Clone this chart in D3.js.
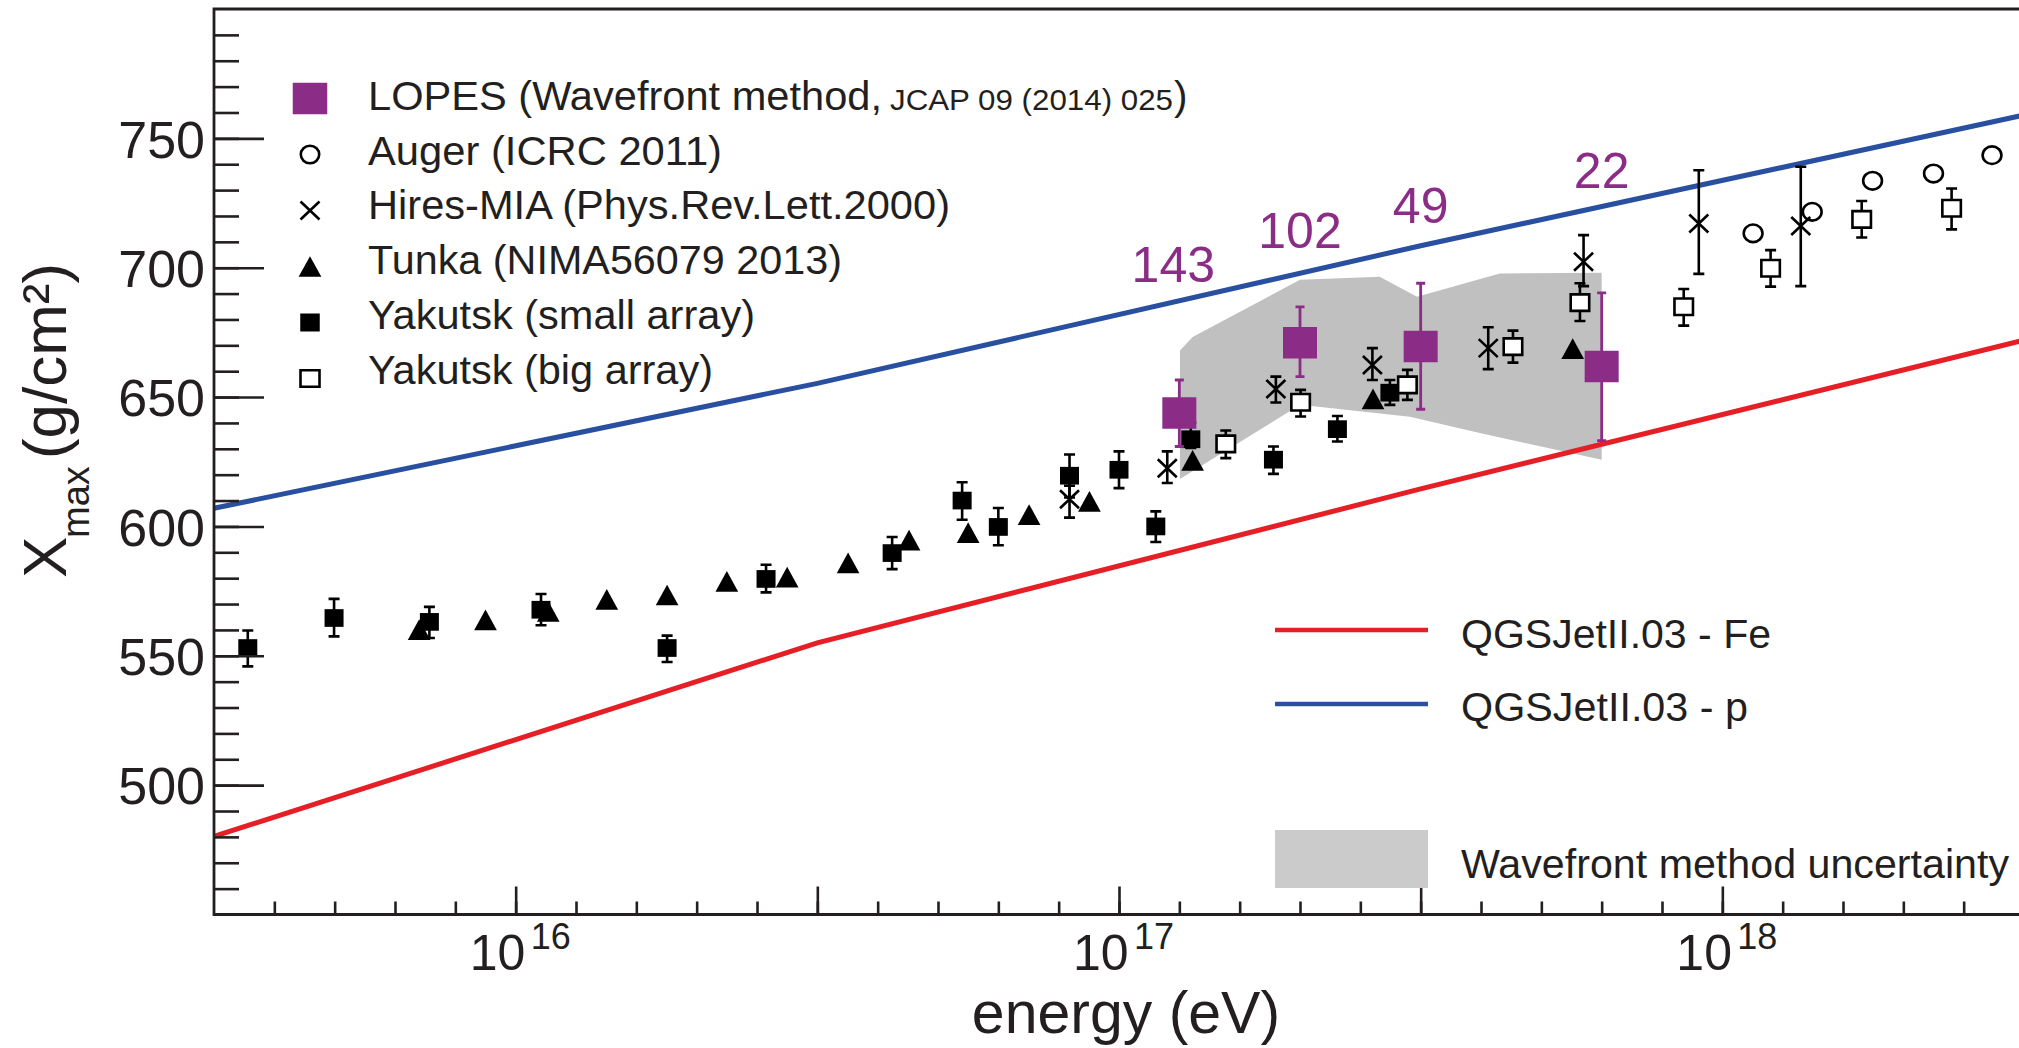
<!DOCTYPE html>
<html>
<head>
<meta charset="utf-8">
<script src="https://cdn.jsdelivr.net/npm/d3@7"></script>
<style>
  html, body { margin: 0; padding: 0; background: #ffffff; }
  svg { display: block; }
  text { font-family: "Liberation Sans", Arial, Helvetica, sans-serif; fill: #231f20; }
</style>
</head>
<body>
<svg id="chart" width="2019" height="1048"></svg>
<script>
// Energies are log10(E / eV); depths are Xmax in g/cm².

// LOPES, wavefront method (with event counts per bin)
const lopesLgE   = [17.10, 17.30, 17.50, 17.80];
const lopesXmax  = [643.8, 671.0, 669.5, 661.8];
const lopesHi    = [656.6, 684.9, 694.0, 690.3];
const lopesLo    = [630.9, 657.9, 645.3, 633.2];
const lopesEvents = ["143", "102", "49", "22"];
const lopesLabelXmax = [694.6, 707.5, 717.1, 730.7];

// Auger (ICRC 2011)
const augerLgE  = [18.051, 18.149, 18.249, 18.350, 18.447];
const augerXmax = [713.3, 721.6, 733.6, 736.4, 743.5];

// HiRes-MIA (PRL 2000)
const hiresLgE  = [16.918, 17.080, 17.260, 17.420, 17.612, 17.770, 17.961, 18.130];
const hiresXmax = [610.5, 622.5, 653.1, 662.4, 668.9, 702.3, 717.1, 716.1];
const hiresHi   = [615.7, 629.0, 657.9, 668.9, 677.0, 712.6, 737.7, 739.0];
const hiresLo   = [603.4, 616.8, 647.9, 656.6, 660.8, 692.9, 697.6, 692.9];

// Tunka (NIMA 2013)
const tunkaLgE  = [15.840, 15.950, 16.054, 16.151, 16.251, 16.350, 16.450, 16.551,
                   16.652, 16.750, 16.851, 16.951, 17.122, 17.421, 17.752];
const tunkaXmax = [560.1, 563.9, 567.2, 571.8, 573.5, 578.8, 580.4, 585.9,
                   594.7, 597.6, 604.6, 609.7, 625.5, 649.3, 668.7];

// Yakutsk, small array
const yakSmallLgE  = [15.556, 15.699, 15.857, 16.042, 16.251, 16.415, 16.624, 16.740,
                      16.800, 16.918, 17.000, 17.061, 17.119, 17.256, 17.362, 17.449];
const yakSmallXmax = [553.0, 564.6, 563.1, 567.8, 553.0, 579.7, 589.7, 610.0,
                      599.8, 619.6, 621.9, 600.0, 633.7, 625.8, 637.6, 651.7];
const yakSmallHi   = [559.8, 572.0, 568.9, 573.9, 557.8, 585.2, 595.9, 617.1,
                      607.1, 627.8, 629.0, 605.8, 640.2, 630.9, 642.7, 656.6];
const yakSmallLo   = [545.9, 557.5, 556.9, 561.8, 547.6, 574.5, 583.5, 602.6,
                      592.7, 611.2, 614.8, 594.0, 630.3, 620.3, 632.8, 647.0];

// Yakutsk, big array
const yakBigLgE  = [17.177, 17.301, 17.478, 17.653, 17.764, 17.936, 18.080, 18.231, 18.380];
const yakBigXmax = [631.9, 648.0, 654.7, 669.5, 686.5, 684.9, 699.8, 718.7, 723.0];
const yakBigHi   = [637.1, 652.8, 660.5, 675.7, 694.0, 691.8, 706.8, 725.8, 730.6];
const yakBigLo   = [626.4, 642.5, 648.9, 663.3, 679.4, 677.6, 692.7, 711.7, 714.8];

// QGSJetII.03 predictions
const modelLgE   = [15.5, 16.5, 17.5, 18.5];
const protonXmax = [607.0, 655.3, 708.5, 759.0];
const ironXmax   = [480.2, 555.0, 614.5, 672.0];

// Wavefront method systematic band (upper edge, then lower edge back)
const bandLgE  = [17.101, 17.122, 17.300, 17.432, 17.494, 17.631, 17.800,
                  17.800, 17.598, 17.482, 17.300, 17.101];
const bandXmax = [668.0, 673.2, 695.3, 696.5, 688.8, 697.8, 698.1,
                  625.8, 636.1, 642.4, 647.0, 618.3];

// Axis ticks
const yMinorTicks = d3.range(460, 800, 10);
const yMajorTicks = [500, 550, 600, 650, 700, 750];
const xMinorLg = d3.range(156, 185).map(k => k / 10);
const xMajorLg = [16, 16.5, 17, 17.5, 18];
const xLabelDecades = [16, 17, 18];

// Legend texts
const legendNames = [
  "LOPES (Wavefront method,",
  "Auger (ICRC 2011)",
  "Hires-MIA (Phys.Rev.Lett.2000)",
  "Tunka (NIMA56079 2013)",
  "Yakutsk (small array)",
  "Yakutsk (big array)"
];
const lopesRef = "JCAP 09 (2014) 025";
const modelNames = ["QGSJetII.03 - Fe", "QGSJetII.03 - p"];
const bandName = "Wavefront method uncertainty";

// ---------------------------------------------------------------
const INK = "#231f20", PURPLE = "#8b2d87", BLUE = "#2950a0", RED = "#e61e25";
const BAND = "#c0c0c0", BAND_KEY = "#cbcbcb";

const svg = d3.select("#chart");
const plotL = 214, plotR = 2024, plotT = 9, plotB = 914.5;

const x = d3.scaleLog().domain([10 ** 15.5, 10 ** 18.5]).range([plotL, plotR]);
const y = d3.scaleLinear().domain([450, 800]).range([plotB, plotT]);
const X = lg => x(10 ** lg);

const zip = (lg, v, hi, lo) => lg.map((e, i) => ({ lg: e, v: v[i], hi: hi ? hi[i] : null, lo: lo ? lo[i] : null }));

// marker shapes
const squarePath = (w, h) => `M${-w / 2},${-h / 2}h${w}v${h}h${-w}Z`;
const trianglePath = (w, h) => `M0,${-h / 2}L${w / 2},${h / 2}L${-w / 2},${h / 2}Z`;
const crossPath = (w, h) => `M${-w / 2},${-h / 2}L${w / 2},${h / 2}M${w / 2},${-h / 2}L${-w / 2},${h / 2}`;

// fixed-width text helper (keeps the condensed legend lettering at its set width)
function fitText(sel, str, px, width) {
  return sel.attr("font-size", px).attr("textLength", width)
    .attr("lengthAdjust", "spacingAndGlyphs").text(str);
}

// ---- uncertainty band
svg.append("path")
  .attr("d", d3.line().x(d => X(d[0])).y(d => y(d[1]))(bandLgE.map((e, i) => [e, bandXmax[i]])) + "Z")
  .attr("fill", BAND);

// ---- model lines
const modelLine = d3.line().x(d => X(d[0])).y(d => y(d[1]));
svg.append("path").attr("d", modelLine(modelLgE.map((e, i) => [e, protonXmax[i]])))
  .attr("fill", "none").attr("stroke", BLUE).attr("stroke-width", 5);
svg.append("path").attr("d", modelLine(modelLgE.map((e, i) => [e, ironXmax[i]])))
  .attr("fill", "none").attr("stroke", RED).attr("stroke-width", 5);

// ---- error bars
function errorBars(data, color, width, cap) {
  const g = svg.append("g").attr("stroke", color).attr("stroke-width", width).attr("fill", "none");
  g.selectAll("path").data(data).join("path")
    .attr("d", d => {
      const cx = X(d.lg), yh = y(d.hi), yl = y(d.lo);
      return `M${cx},${yh}V${yl}M${cx - cap / 2},${yh}h${cap}M${cx - cap / 2},${yl}h${cap}`;
    });
}

const tunka = zip(tunkaLgE, tunkaXmax);
const yakSmall = zip(yakSmallLgE, yakSmallXmax, yakSmallHi, yakSmallLo);
const yakBig = zip(yakBigLgE, yakBigXmax, yakBigHi, yakBigLo);
const hires = zip(hiresLgE, hiresXmax, hiresHi, hiresLo);
const auger = zip(augerLgE, augerXmax);
const lopes = zip(lopesLgE, lopesXmax, lopesHi, lopesLo);

// Tunka triangles
svg.append("g").selectAll("path").data(tunka).join("path")
  .attr("transform", d => `translate(${X(d.lg)},${y(d.v)})`)
  .attr("d", trianglePath(22.7, 20.7)).attr("fill", "#000");

// Yakutsk small array
errorBars(yakSmall, "#000", 2.6, 11);
svg.append("g").selectAll("path").data(yakSmall).join("path")
  .attr("transform", d => `translate(${X(d.lg)},${y(d.v)})`)
  .attr("d", squarePath(19, 17.7)).attr("fill", "#000");

// Yakutsk big array
errorBars(yakBig, "#000", 2.6, 11);
svg.append("g").selectAll("path").data(yakBig).join("path")
  .attr("transform", d => `translate(${X(d.lg)},${y(d.v)})`)
  .attr("d", squarePath(18.5, 16.5)).attr("fill", "#fff").attr("stroke", "#000").attr("stroke-width", 2.6);

// HiRes-MIA
errorBars(hires, "#000", 2.6, 11);
svg.append("g").selectAll("path").data(hires).join("path")
  .attr("transform", d => `translate(${X(d.lg)},${y(d.v)})`)
  .attr("d", crossPath(19, 18)).attr("fill", "none").attr("stroke", "#000").attr("stroke-width", 2.6);

// Auger
svg.append("g").selectAll("ellipse").data(auger).join("ellipse")
  .attr("cx", d => X(d.lg)).attr("cy", d => y(d.v)).attr("rx", 9.4).attr("ry", 8.8)
  .attr("fill", "none").attr("stroke", "#000").attr("stroke-width", 2.6);

// LOPES
errorBars(lopes, PURPLE, 2.8, 9);
svg.append("g").selectAll("path").data(lopes).join("path")
  .attr("transform", d => `translate(${X(d.lg)},${y(d.v)})`)
  .attr("d", squarePath(34, 31.5)).attr("fill", PURPLE);
svg.append("g").selectAll("text").data(lopesEvents).join("text")
  .attr("x", (d, i) => X(lopesLgE[i]) - (i === 0 ? 6 : 0))
  .attr("y", (d, i) => y(lopesLabelXmax[i]))
  .attr("text-anchor", "middle").attr("font-size", 50)
  .style("fill", PURPLE)
  .text(d => d);

// ---- axes
const yMinor = d3.axisLeft(y).tickValues(yMinorTicks).tickSize(-25).tickFormat("");
const yMajor = d3.axisLeft(y).tickValues(yMajorTicks).tickSize(-50).tickPadding(9).tickFormat(d3.format("d"));
const gyMinor = svg.append("g").attr("transform", `translate(${plotL},0)`).call(yMinor);
const gyMajor = svg.append("g").attr("transform", `translate(${plotL},0)`).call(yMajor);
[gyMinor, gyMajor].forEach(g => {
  g.select(".domain").remove();
  g.selectAll(".tick line").attr("stroke", INK).attr("stroke-width", 2.6);
});
gyMajor.selectAll(".tick text").attr("font-size", 52).attr("font-family", null)
  .attr("dy", "0.36em").style("fill", INK);

const xMinor = d3.axisBottom(x).tickValues(xMinorLg.map(l => 10 ** l)).tickSize(-13).tickFormat("");
const xMajor = d3.axisBottom(x).tickValues(xMajorLg.map(l => 10 ** l)).tickSize(-28).tickFormat("");
[xMinor, xMajor].forEach(ax => {
  const g = svg.append("g").attr("transform", `translate(0,${plotB})`).call(ax);
  g.select(".domain").remove();
  g.selectAll(".tick line").attr("stroke", INK).attr("stroke-width", 2.6);
});

// decade labels 10^n
const xl = svg.append("g").selectAll("g").data(xLabelDecades).join("g")
  .attr("transform", d => `translate(${X(d)},0)`);
xl.append("text").attr("x", -46).attr("y", 970).attr("font-size", 50).text("10");
xl.append("text").attr("x", 15).attr("y", 949).attr("font-size", 36).text(d => d);

// frame
svg.append("path")
  .attr("d", `M${plotL},${plotT}H${plotR}V${plotB}H${plotL}Z`)
  .attr("fill", "none").attr("stroke", INK).attr("stroke-width", 2.8);

// axis titles
svg.append("text").attr("x", 1126).attr("y", 1033).attr("text-anchor", "middle")
  .attr("font-size", 59).text("energy (eV)");

const yt = svg.append("g").attr("transform", "translate(66,578) rotate(-90)");
yt.append("text").attr("x", 0).attr("y", 0).attr("font-size", 62).text("X");
yt.append("text").attr("x", 40).attr("y", 23).attr("font-size", 38).text("max");
fitText(yt.append("text").attr("x", 119).attr("y", 0), "(g/cm²)", 62, 196);

// ---- legend, upper left
const legX = 310, textX = 368;
const markerY = i => 98.5 + i * 56;
const textY = i => 110 + i * 54.7;
const legendWidths = [514, 354, 582, 474, 387, 345];
const leg = svg.append("g");
leg.append("path").attr("transform", `translate(${legX},${markerY(0)})`)
  .attr("d", squarePath(34.5, 31.5)).attr("fill", PURPLE);
leg.append("ellipse").attr("cx", legX).attr("cy", markerY(1)).attr("rx", 9.2).attr("ry", 8.8)
  .attr("fill", "none").attr("stroke", "#000").attr("stroke-width", 2.6);
leg.append("path").attr("transform", `translate(${legX},${markerY(2)})`)
  .attr("d", crossPath(19, 18)).attr("stroke", "#000").attr("stroke-width", 2.6);
leg.append("path").attr("transform", `translate(${legX},${markerY(3)})`)
  .attr("d", trianglePath(22.7, 20.7)).attr("fill", "#000");
leg.append("path").attr("transform", `translate(${legX},${markerY(4)})`)
  .attr("d", squarePath(19.5, 18)).attr("fill", "#000");
leg.append("path").attr("transform", `translate(${legX},${markerY(5)})`)
  .attr("d", squarePath(19, 16.5)).attr("fill", "#fff").attr("stroke", "#000").attr("stroke-width", 2.6);

legendNames.forEach((name, i) => {
  fitText(leg.append("text").attr("x", textX).attr("y", textY(i)), name, 40.5, legendWidths[i]);
});
fitText(leg.append("text").attr("x", 890).attr("y", textY(0)), lopesRef, 29.5, 283);
leg.append("text").attr("x", 1174).attr("y", textY(0)).attr("font-size", 40.5).text(")");

// ---- legend, lower right
const keyX0 = 1275, keyX1 = 1428, keyTextX = 1461;
const keys = svg.append("g");
keys.append("line").attr("x1", keyX0).attr("x2", keyX1).attr("y1", 630).attr("y2", 630)
  .attr("stroke", RED).attr("stroke-width", 4.5);
keys.append("line").attr("x1", keyX0).attr("x2", keyX1).attr("y1", 704).attr("y2", 704)
  .attr("stroke", BLUE).attr("stroke-width", 4.5);
keys.append("rect").attr("x", keyX0).attr("y", 830).attr("width", keyX1 - keyX0).attr("height", 58)
  .attr("fill", BAND_KEY);
fitText(keys.append("text").attr("x", keyTextX).attr("y", 647.5), modelNames[0], 40.5, 310);
fitText(keys.append("text").attr("x", keyTextX).attr("y", 720.5), modelNames[1], 40.5, 287);
fitText(keys.append("text").attr("x", keyTextX).attr("y", 877.5), bandName, 40.5, 548);
</script>
</body>
</html>
